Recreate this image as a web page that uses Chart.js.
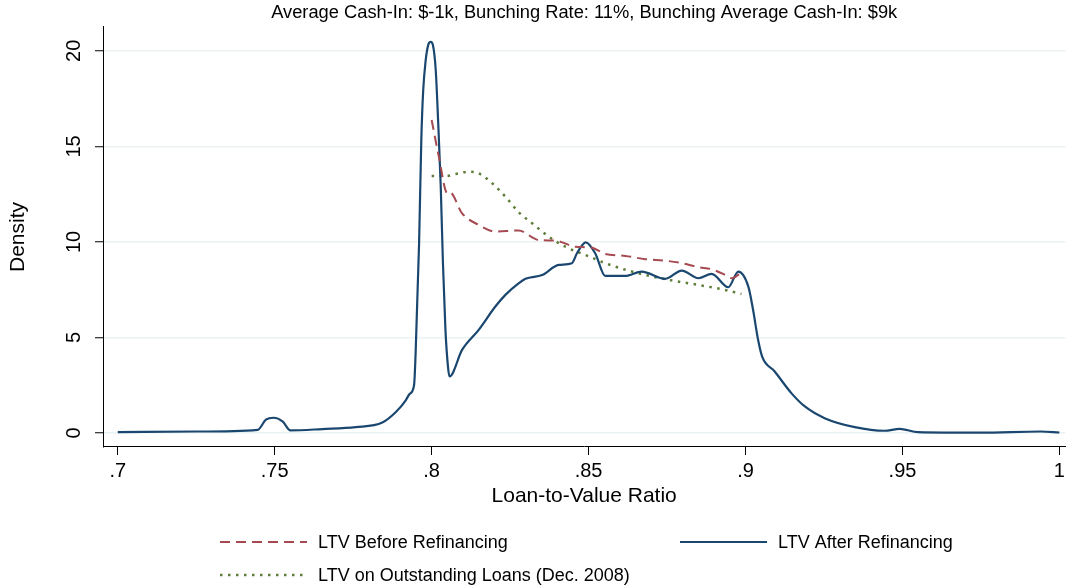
<!DOCTYPE html>
<html lang="en">
<head>
  <meta charset="UTF-8">
  <title>LTV Density</title>
  <script src="https://cdn.jsdelivr.net/npm/chart.js"></script>
  <style>
    html, body { margin: 0; padding: 0; background: #fff; }
  </style>
</head>
<body>
<canvas id="ltvChart" width="1069" height="587"></canvas>

<script>
  // Loan-to-value grid and densities
  const afterX = [0.700, 0.725, 0.7446, 0.7472, 0.7497, 0.7525, 0.755, 0.7652, 0.7758, 0.7843, 0.7886, 0.7917, 0.7930, 0.7944,
    0.7949, 0.7960, 0.7967, 0.7973, 0.7981, 0.7989, 0.7997, 0.8004, 0.8013, 0.8021, 0.8029, 0.8036, 0.8044, 0.8052, 0.8057,
    0.8097, 0.8150, 0.8203, 0.8235, 0.8278, 0.8299, 0.8352, 0.8405, 0.8447, 0.8463, 0.8491, 0.8521, 0.8553, 0.8617,
    0.8669, 0.8744, 0.8797, 0.8850, 0.8892, 0.8945, 0.8977, 0.9009, 0.9024, 0.9040, 0.9053, 0.9093, 0.9146, 0.9189,
    0.9252, 0.9348, 0.9443, 0.9491, 0.9549, 0.9750, 0.9941, 1.000];
  const afterY = [0.05, 0.08, 0.17, 0.70, 0.80, 0.61, 0.14, 0.21, 0.31, 0.55, 1.10, 1.70, 2.05, 2.50,
    4.2, 9.93, 15.3, 17.9, 19.5, 20.3, 20.47, 20.3, 19.0, 16.2, 12.9, 8.9, 5.4, 3.48, 2.96,
    4.35, 5.40, 6.62, 7.23, 7.84, 8.07, 8.27, 8.80, 8.89, 9.41, 9.98, 9.41, 8.22, 8.22,
    8.45, 8.07, 8.50, 8.10, 8.33, 7.63, 8.45, 7.66, 6.45, 4.88, 4.00, 3.22, 2.09, 1.39,
    0.78, 0.31, 0.12, 0.22, 0.05, 0.02, 0.08, 0.03];

  const beforeX = [0.800, 0.8023, 0.8050, 0.8058, 0.8097, 0.8150, 0.8203, 0.8277, 0.8341, 0.8394, 0.8458, 0.8510,
    0.8553, 0.8617, 0.8680, 0.8744, 0.8797, 0.8850, 0.8892, 0.8935, 0.8956, 0.8987];
  const beforeY = [16.38, 14.46, 12.55, 12.60, 11.50, 10.89, 10.54, 10.60, 10.10, 10.07, 9.75, 9.70,
    9.37, 9.27, 9.10, 9.02, 8.89, 8.68, 8.57, 8.28, 8.10, 8.40];

  const outstandingX = [0.800, 0.8045, 0.8087, 0.8119, 0.8150, 0.8193, 0.8235, 0.8278, 0.8320, 0.8373, 0.8426,
    0.8490, 0.8553, 0.8638, 0.8744, 0.8850, 0.8935, 0.8987];
  const outstandingY = [13.45, 13.45, 13.59, 13.68, 13.59, 13.07, 12.37, 11.55, 10.98, 10.28, 9.75,
    9.32, 8.89, 8.45, 8.05, 7.75, 7.49, 7.28];

  const xTickValues = [0.7, 0.75, 0.8, 0.85, 0.9, 0.95, 1];
  const xTickLabels = ['.7', '.75', '.8', '.85', '.9', '.95', '1'];
  const yTickValues = [0, 5, 10, 15, 20];
  const yTickLabels = ['0', '5', '10', '15', '20'];

  const seriesNames = ['LTV Before Refinancing', 'LTV After Refinancing', 'LTV on Outstanding Loans (Dec. 2008)'];
  const chartTitle = 'Average Cash-In: $-1k, Bunching Rate: 11%, Bunching Average Cash-In: $9k';

  const fontFamily = '"Liberation Sans", Arial, Helvetica, sans-serif';

  function toPoints(xs, ys) {
    return xs.map((x, i) => ({ x: x, y: ys[i] }));
  }

  // Stata style legend: two columns, line samples drawn with each dataset's style
  const legendSlots = [
    { dataset: 0, x: 220, y: 542 },
    { dataset: 1, x: 680, y: 542 },
    { dataset: 2, x: 220, y: 575 }
  ];

  const stataLegend = {
    id: 'stataLegend',
    afterDraw(chart) {
      const ctx = chart.ctx;
      ctx.save();
      ctx.font = '18px ' + fontFamily;
      ctx.fillStyle = '#000';
      ctx.textBaseline = 'middle';
      legendSlots.forEach((slot) => {
        const ds = chart.data.datasets[slot.dataset];
        ctx.beginPath();
        ctx.strokeStyle = ds.borderColor;
        ctx.lineWidth = ds.borderWidth;
        ctx.setLineDash(ds.borderDash || []);
        ctx.moveTo(slot.x, slot.y);
        ctx.lineTo(slot.x + 87, slot.y);
        ctx.stroke();
        ctx.setLineDash([]);
        ctx.fillText(ds.label, slot.x + 98, slot.y + 1);
      });
      ctx.restore();
    }
  };

  const ctx = document.getElementById('ltvChart').getContext('2d');
  const chart = new Chart(ctx, {
    type: 'line',
    data: {
      datasets: [
        {
          label: seriesNames[0],
          data: toPoints(beforeX, beforeY),
          borderColor: '#a54a50',
          borderWidth: 2,
          borderDash: [10, 6],
          pointRadius: 0,
          cubicInterpolationMode: 'monotone'
        },
        {
          label: seriesNames[1],
          data: toPoints(afterX, afterY),
          borderColor: '#1a476f',
          borderWidth: 2.2,
          pointRadius: 0,
          cubicInterpolationMode: 'monotone'
        },
        {
          label: seriesNames[2],
          data: toPoints(outstandingX, outstandingY),
          borderColor: '#5d7d38',
          borderWidth: 2.5,
          borderDash: [2.5, 5.5],
          pointRadius: 0,
          cubicInterpolationMode: 'monotone'
        }
      ]
    },
    options: {
      responsive: false,
      animation: false,
      devicePixelRatio: 1,
      layout: { padding: { left: 0, right: 1, top: 0, bottom: 78 } },
      plugins: {
        legend: { display: false },
        tooltip: { enabled: false },
        title: {
          display: true,
          text: chartTitle,
          fullSize: false,
          color: '#000',
          font: { family: fontFamily, size: 18.3, weight: 'normal', lineHeight: 1.2 },
          padding: { top: 2.3, bottom: 2.7 }
        }
      },
      scales: {
        x: {
          type: 'linear',
          min: 0.6953,
          max: 1.0019,
          afterBuildTicks: (scale) => { scale.ticks = xTickValues.map(v => ({ value: v })); },
          afterFit: (scale) => { scale.height = 62; },
          ticks: {
            callback: (value, index) => xTickLabels[index],
            color: '#000',
            font: { family: fontFamily, size: 20 },
            padding: 4,
            maxRotation: 0,
            minRotation: 0,
            autoSkip: false
          },
          grid: { drawOnChartArea: false, tickLength: 8, tickColor: '#000', tickWidth: 1 },
          border: { display: true, color: '#000', width: 1 },
          title: {
            display: true,
            text: 'Loan-to-Value Ratio',
            color: '#000',
            font: { family: fontFamily, size: 21 },
            padding: { top: 0, bottom: 0 }
          }
        },
        y: {
          min: -0.73,
          max: 21.25,
          afterBuildTicks: (scale) => { scale.ticks = yTickValues.map(v => ({ value: v })); },
          afterFit: (scale) => { scale.width = 103; },
          ticks: {
            callback: (value, index) => yTickLabels[index],
            color: '#000',
            font: { family: fontFamily, size: 20 },
            padding: 9,
            minRotation: 90,
            maxRotation: 90,
            crossAlign: 'center',
            autoSkip: false
          },
          grid: { color: '#eaf2f3', lineWidth: 1.5, tickLength: 8, tickColor: '#000', tickWidth: 1 },
          border: { display: true, color: '#000', width: 1 },
          title: {
            display: true,
            text: 'Density',
            color: '#000',
            font: { family: fontFamily, size: 21 },
            padding: { top: 6, bottom: 0 }
          }
        }
      }
    },
    plugins: [stataLegend]
  });
</script>
</body>
</html>
